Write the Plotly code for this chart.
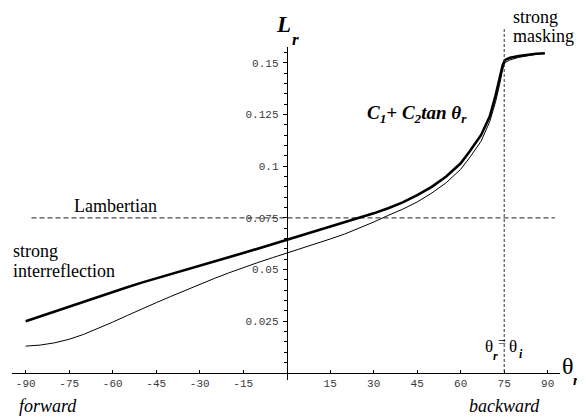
import plotly.graph_objects as go

# ---------------- data ----------------
theta_thick = [-90, -85, -80, -75, -70, -65, -60, -55, -50, -45, -40, -35, -30, -25, -20, -15, -10, -5,
               0, 5, 10, 15, 20, 25, 30, 35, 40, 45, 50, 55, 60, 63, 65, 67, 70, 72, 73.5, 74.5, 75.3,
               77, 80, 83, 86, 89]
L_thick = [0.0250, 0.0274, 0.0298, 0.0322, 0.0346, 0.0370, 0.0393, 0.0415, 0.0437, 0.0458, 0.0479,
           0.0500, 0.0520, 0.0540, 0.0560, 0.0580, 0.0601, 0.0623,
           0.0646, 0.0667, 0.0688, 0.0709, 0.0729, 0.0750, 0.0772, 0.0797, 0.0825, 0.0860, 0.0900,
           0.0950, 0.1014, 0.1070, 0.1110, 0.1150, 0.1240, 0.1340, 0.1430, 0.1490, 0.1514,
           0.1524, 0.1533, 0.1540, 0.1544, 0.1546]

theta_thin = [-90, -85, -80, -75, -70, -65, -60, -55, -50, -45, -40, -35, -30, -25, -20, -15, -10, -5,
              0, 5, 10, 15, 20, 25, 30, 35, 40, 45, 50, 55, 60, 63, 65, 67, 70, 72, 73.5, 74.5, 75.3,
              77, 80, 83, 86, 89]
L_thin = [0.0130, 0.0135, 0.0146, 0.0163, 0.0187, 0.0215, 0.0246, 0.0278, 0.0310, 0.0340, 0.0370,
          0.0400, 0.0429, 0.0457, 0.0484, 0.0510, 0.0534, 0.0557,
          0.0579, 0.0602, 0.0625, 0.0648, 0.0672, 0.0700, 0.0730, 0.0762, 0.0792, 0.0827, 0.0870,
          0.0920, 0.0985, 0.1040, 0.1080, 0.1120, 0.1215, 0.1310, 0.1400, 0.1470, 0.1502,
          0.1514, 0.1526, 0.1535, 0.1541, 0.1545]

LAMBERTIAN = 0.075
LAMBERTIAN_X = [-88, 92.5]
SPECULAR_THETA = 75

x_tick_vals = [-90, -75, -60, -45, -30, -15, 15, 30, 45, 60, 75, 90]
x_tick_text = ["-90", "-75", "-60", "-45", "-30", "-15", "15", "30", "45", "60", "75", "90"]
y_tick_vals = [0.025, 0.05, 0.075, 0.1, 0.125, 0.15]
y_tick_text = ["0.025", "0.05", "0.075", "0.1", "0.125", "0.15"]

# ---------------- layout helpers ----------------
# the page has an 8px body margin, so the figure is shifted by OFF px
OFF = 8
W, H = 585 - OFF, 418 - OFF
SERIF = "Liberation Serif"
MONO = "Liberation Mono"
TICK_FONT = dict(family=MONO, size=11, color="#3a3a3a")


def px(x):
    return (x - OFF) / W


def py(y):
    return 1 - (y - OFF) / H


fig = go.Figure()

fig.add_trace(go.Scatter(x=LAMBERTIAN_X, y=[LAMBERTIAN, LAMBERTIAN], mode="lines",
                         line=dict(color="#222222", width=1, dash="5px,3px"), hoverinfo="skip"))
fig.add_trace(go.Scatter(x=theta_thin, y=L_thin, mode="lines",
                         line=dict(color="black", width=1), hoverinfo="skip"))
fig.add_trace(go.Scatter(x=theta_thick, y=L_thick, mode="lines",
                         line=dict(color="black", width=2.6), hoverinfo="skip"))

# vertical dash line at specular angle
fig.add_shape(type="line", xref="x", yref="paper", x0=SPECULAR_THETA, x1=SPECULAR_THETA,
              y0=py(372), y1=py(28), line=dict(color="#333333", width=1, dash="3px,2px"))

anns = []


def ann(text, x, y, size, xanchor="center", color="black"):
    anns.append(dict(text=text, x=px(x), y=py(y), xref="paper", yref="paper", showarrow=False,
                     xanchor=xanchor, yanchor="middle", font=dict(family=SERIF, size=size, color=color),
                     borderpad=0))


ann("<b><i>L</i></b>", 283.7, 24.2, 23)
ann("<b><i>r</i></b>", 295.5, 39.6, 17)
ann("θ", 567.5, 365.5, 24)
ann("<b><i>r</i></b>", 575.5, 380.2, 15)
ann("θ", 489, 346.6, 17)
ann("<b><i>r</i></b>", 495.5, 355.5, 12)
ann("=", 502, 342, 14)
ann("θ", 513, 346.6, 17)
ann("<b><i>i</i></b>", 521, 354, 12)
ann("strong", 511.5, 16.6, 18, "left")
ann("masking", 511.5, 35.6, 18, "left")
ann("Lambertian", 73, 205.9, 18, "left")
ann("strong", 11.5, 250.6, 18, "left")
ann("interreflection", 11.5, 271.2, 18, "left")
ann("<i>forward</i>", 18, 405.6, 18, "left")
ann("<i>backward</i>", 468, 405.6, 18, "left")
ann("<b><i>C<sub>1</sub>+ C<sub>2</sub>tan θ<sub>r</sub></i></b>", 366, 114, 19, "left")

fig.update_layout(
    width=W, height=H,
    margin=dict(l=0, r=0, t=0, b=0),
    paper_bgcolor="white", plot_bgcolor="white",
    showlegend=False,
    annotations=anns,
    xaxis=dict(
        domain=[px(12), px(560)],
        range=[(12 - 286.7) / 2.9, (560 - 286.7) / 2.9],
        anchor="free", position=py(373),
        showline=True, linecolor="black", linewidth=1,
        ticks="inside", ticklen=3, tickcolor="black", tickwidth=1,
        tickmode="array", tickvals=x_tick_vals, ticktext=x_tick_text,
        tickfont=TICK_FONT, showgrid=False, zeroline=False,
    ),
    yaxis=dict(
        domain=[py(380), py(46.7)],
        range=[(373 - 380) / 2068, (373 - 46.7) / 2068],
        anchor="free", position=px(286.7), side="left",
        showline=True, linecolor="black", linewidth=1,
        ticks="outside", ticklen=4, tickcolor="black", tickwidth=1,
        tickmode="array", tickvals=y_tick_vals, ticktext=y_tick_text,
        tickfont=TICK_FONT, showgrid=False, zeroline=False,
        minor=dict(ticks="outside", ticklen=2.5, tickcolor="black", dtick=0.005, tick0=0, showgrid=False),
        ticklabelstandoff=2,
    ),
)

fig.write_html("out.html")
